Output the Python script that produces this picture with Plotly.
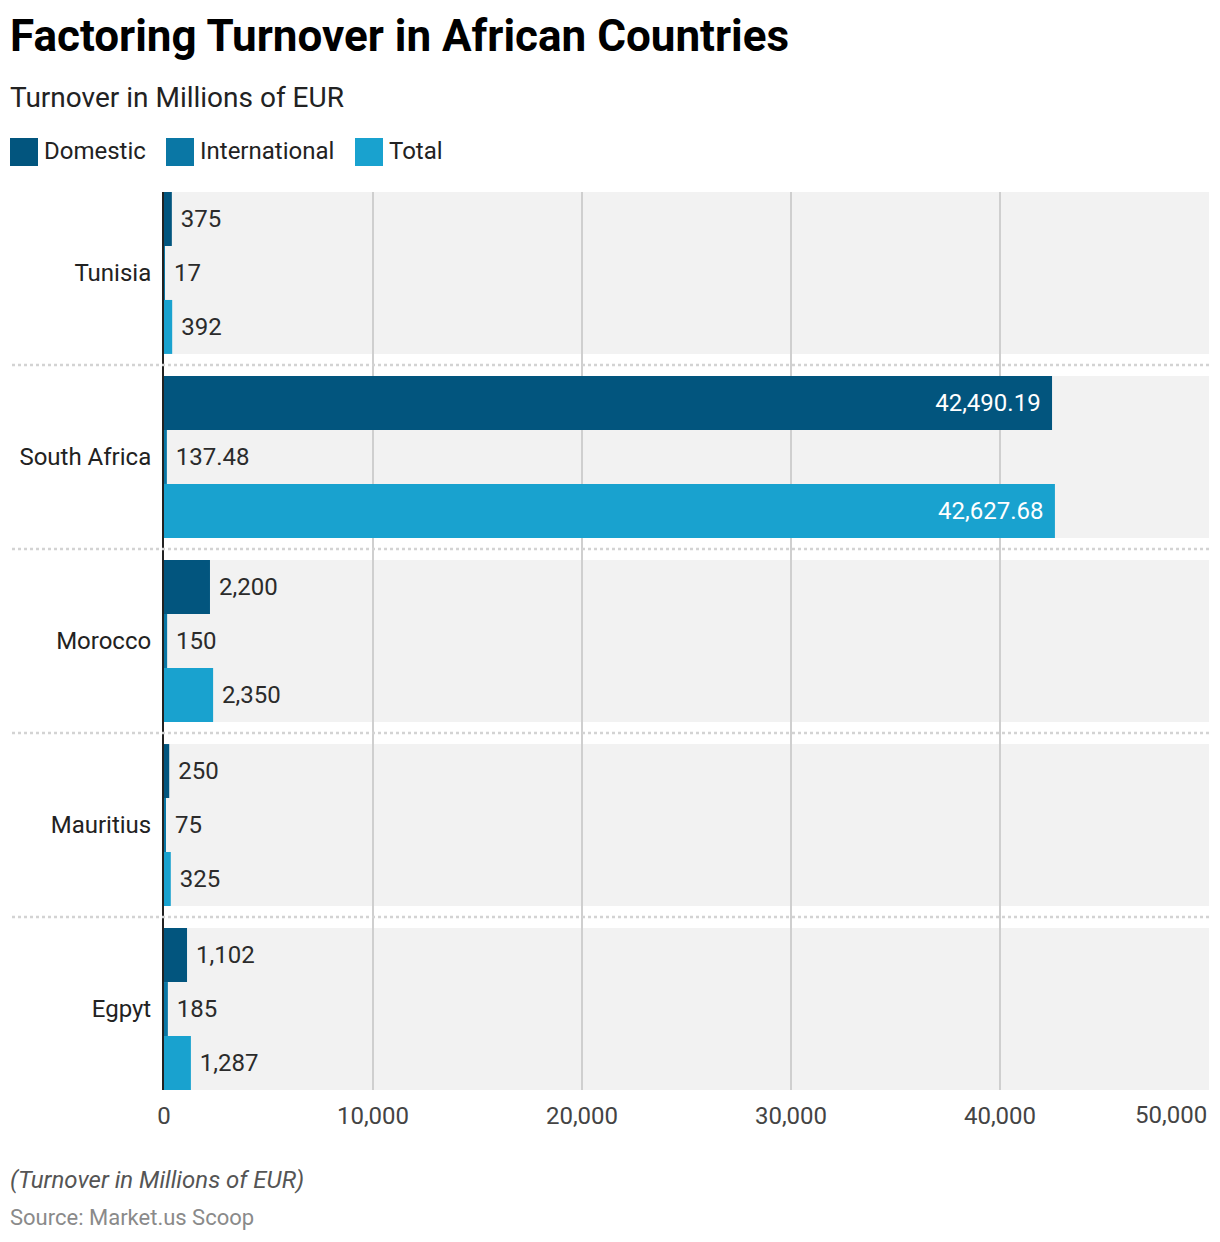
import plotly.graph_objects as go

# ---- data ----
countries = ["Tunisia", "South Africa", "Morocco", "Mauritius", "Egpyt"]
domestic = [375, 42490.19, 2200, 250, 1102]
international = [17, 137.48, 150, 75, 185]
total = [392, 42627.68, 2350, 325, 1287]
series_names = ["Domestic", "International", "Total"]
x_tick_vals = [0, 10000, 20000, 30000, 40000, 50000]
x_tick_text = ["0", "10,000", "20,000", "30,000", "40,000", "50,000"]

colors = ["#02557E", "#0A77A5", "#19A2CF"]

# page has an 8px body margin; work in reference-pixel coordinates
OFF = 8
W, H = 1220 - 2 * OFF, 1242 - 2 * OFF
PLOT_L, PLOT_R, PLOT_T, PLOT_B = 164, 1209, 192, 1090  # reference pixels
L = PLOT_L - OFF
R = W - (PLOT_R - OFF)
T = PLOT_T - OFF
B = H - (PLOT_B - OFF)
PW, PH = W - L - R, H - T - B
FONT = "Roboto"
NB = "\u00a0"


def px(xp):
    return (xp - PLOT_L) / PW


def py(yp):
    return (PLOT_B - yp) / PH


def fmt(v):
    if abs(v - round(v)) < 1e-9:
        return f"{int(round(v)):,}"
    return f"{v:,.2f}"


INSIDE_MIN = 10000
FS = 24

fig = go.Figure()
for name, vals, col in zip(series_names, [domestic, international, total], colors):
    texts, pos, tcol = [], [], []
    for v in vals:
        if v >= INSIDE_MIN:
            texts.append(fmt(v) + NB + "\u200a")
            pos.append("inside")
            tcol.append("#ffffff")
        else:
            texts.append(NB + fmt(v))
            pos.append("outside")
            tcol.append("#2b2b2b")
    fig.add_trace(go.Bar(
        name=name, y=countries, x=vals, orientation="h",
        marker=dict(color=col, line=dict(width=0)),
        text=texts, textposition=pos, insidetextanchor="end",
        textfont=dict(family=FONT, size=FS, color=tcol),
        outsidetextfont=dict(family=FONT, size=FS, color="#2b2b2b"),
        insidetextfont=dict(family=FONT, size=FS, color="#ffffff"),
        constraintext="none", cliponaxis=False,
        showlegend=False, hoverinfo="x+y",
    ))

n = len(countries)
half = 0.44
shapes = []
# background bands
for i in range(n):
    shapes.append(dict(type="rect", xref="paper", yref="y", x0=0, x1=1,
                       y0=i - half, y1=i + half, fillcolor="#F2F2F2",
                       line=dict(width=0), layer="below"))
# dotted separators (paper coords)
rng0, rng1 = n - 1 + half, -half
for i in range(n - 1):
    yv = i + 0.5
    yp = (rng0 - yv) / (rng0 - rng1)
    shapes.append(dict(type="line", xref="paper", yref="paper",
                       x0=px(12), x1=1, y0=yp, y1=yp,
                       line=dict(color="#D3D3D3", width=2.5, dash="dot"),
                       layer="above"))

annotations = []
annotations.append(dict(text="<b>Factoring Turnover in African Countries</b>",
                        xref="paper", yref="paper", x=px(8), y=py(36),
                        xanchor="left", yanchor="middle", showarrow=False,
                        font=dict(family=FONT, size=44, color="#000000")))
annotations.append(dict(text="Turnover in Millions of EUR",
                        xref="paper", yref="paper", x=px(8), y=py(97),
                        xanchor="left", yanchor="middle", showarrow=False,
                        font=dict(family=FONT, size=28, color="#222222")))
# manual legend
leg_x = [10, 166, 355]
for lx, name, col in zip(leg_x, series_names, colors):
    shapes.append(dict(type="rect", xref="paper", yref="paper",
                       x0=px(lx), x1=px(lx + 28), y0=py(166), y1=py(138),
                       fillcolor=col, line=dict(width=0)))
    annotations.append(dict(text=name, xref="paper", yref="paper",
                            x=px(lx + 32), y=py(151), xanchor="left",
                            yanchor="middle", showarrow=False,
                            font=dict(family=FONT, size=FS, color="#222222")))
# last tick label right-aligned at edge
annotations.append(dict(text=x_tick_text[-1], xref="paper", yref="paper",
                        x=1, y=py(1115), xanchor="right", yanchor="middle",
                        showarrow=False,
                        font=dict(family=FONT, size=FS, color="#444444")))
annotations.append(dict(text="<i>(Turnover in Millions of EUR)</i>",
                        xref="paper", yref="paper", x=px(8), y=py(1180),
                        xanchor="left", yanchor="middle", showarrow=False,
                        font=dict(family=FONT, size=24, color="#555555")))
annotations.append(dict(text="Source: Market.us Scoop",
                        xref="paper", yref="paper", x=px(8), y=py(1217),
                        xanchor="left", yanchor="middle", showarrow=False,
                        font=dict(family=FONT, size=22, color="#8A8A8A")))

fig.update_layout(
    width=W, height=H,
    margin=dict(l=L, r=R, t=T, b=B, autoexpand=False),
    paper_bgcolor="#ffffff", plot_bgcolor="#ffffff",
    barmode="group", bargap=0.12, bargroupgap=0,
    shapes=shapes, annotations=annotations,
    showlegend=False,
    font=dict(family=FONT, size=FS, color="#222222"),
    uniformtext=dict(mode=False),
)
fig.update_xaxes(
    range=[0, 50000], tickvals=x_tick_vals,
    ticktext=x_tick_text[:-1] + [""],
    showgrid=True, gridcolor="#CFCFCF", gridwidth=2,
    zeroline=False, showline=False,
    ticks="outside", ticklen=4, tickcolor="rgba(0,0,0,0)",
    tickfont=dict(family=FONT, size=FS, color="#444444"),
    fixedrange=True,
)
fig.update_yaxes(
    type="category", categoryorder="array", categoryarray=countries,
    range=[rng0, rng1],
    showgrid=False, zeroline=False,
    showline=True, linecolor="#222222", linewidth=2,
    ticks="outside", ticklen=6, tickcolor="rgba(0,0,0,0)",
    tickfont=dict(family=FONT, size=FS, color="#222222"),
    fixedrange=True,
)

fig.write_html("out.html")
